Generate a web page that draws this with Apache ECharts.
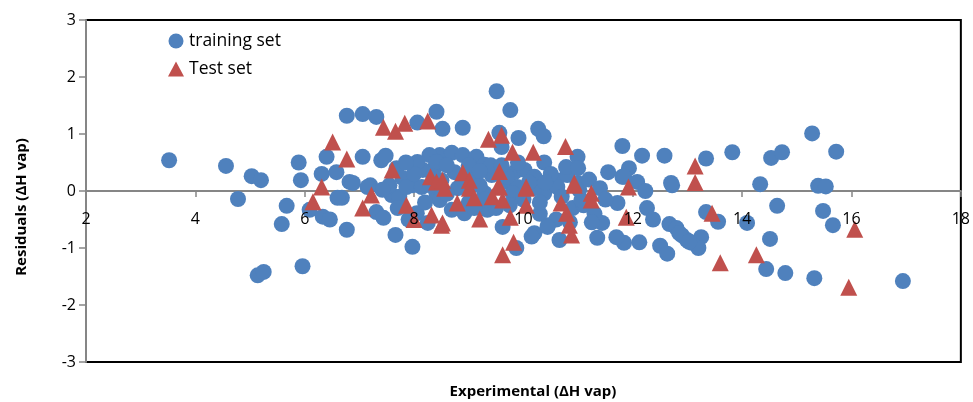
<!DOCTYPE html>
<html><head><meta charset="utf-8">
<script src="https://cdn.jsdelivr.net/npm/echarts@6/dist/echarts.min.js"></script>
<style>html,body{margin:0;padding:0;background:#fff}#c{width:973px;height:402px}</style>
</head><body><div id="c"></div>
<script>
const xTicks = [2,4,6,8,10,12,14,16,18];
const yTicks = [-3,-2,-1,0,1,2,3];
const trainingSet = [
[3.52,0.54],[4.56,0.44],[4.78,-0.14],[5.03,0.26],[5.2,0.19],[5.14,-1.48],[5.25,-1.42],[5.67,-0.26],[5.58,-0.58],[5.96,-1.32],
[5.89,0.5],[5.93,0.19],[6.09,-0.33],[6.33,-0.45],[6.46,-0.5],[6.31,0.3],[6.4,0.6],[6.58,0.33],[6.68,-0.12],[6.6,-0.12],
[6.77,-0.68],[6.82,0.16],[6.77,1.32],[7.06,1.35],[7.31,1.3],[7.06,0.6],[7.2,0.1],[7.4,0.54],[7.48,0.62],[7.31,-0.37],
[7.44,-0.47],[7.59,-0.07],[7.66,-0.77],[7.97,-0.98],[7.73,-0.1],[8.06,1.2],[8.41,1.39],[8.52,1.09],[8.89,1.11],[9.51,1.75],
[9.76,1.42],[9.56,1.02],[9.6,0.77],[9.91,0.93],[10.27,1.09],[10.37,0.96],[10.38,0.5],[10.99,0.6],[11.81,0.79],[11.55,0.33],
[11.81,0.25],[11.93,0.4],[11.84,0.25],[12.08,0.16],[12.23,0.0],[12.17,0.62],[12.58,0.62],[12.7,0.14],[13.34,0.57],[13.82,0.68],
[14.33,0.12],[14.53,0.58],[14.73,0.68],[15.28,1.01],[15.72,0.69],[15.39,0.09],[15.53,0.08],
[12.26,-0.3],[12.37,-0.5],[12.67,-0.58],[12.8,-0.65],[12.9,-0.78],[12.99,-0.86],[13.08,-0.91],[13.25,-0.81],[13.2,-1.0],
[12.5,-0.96],[12.63,-1.1],[12.12,-0.9],[11.84,-0.91],[13.34,-0.37],[13.56,-0.54],[14.09,-0.56],[14.64,-0.26],[14.51,-0.84],
[14.44,-1.37],[14.79,-1.44],[15.32,-1.53],[16.94,-1.58],[15.48,-0.35],[15.66,-0.6],
[11.72,-0.21],[11.44,-0.56],[11.35,-0.82],[11.7,-0.81],[12.85,-0.74],[13.03,-0.89],[12.72,0.1],[11.02,0.02],
[9.62,-0.63],[9.87,-1.0],[10.2,-0.74],[10.66,-0.86],[10.3,-0.4],[10.45,-0.6],[10.6,-0.5],[10.9,-0.3],[11.1,-0.25],[11.3,-0.4],
[8.47,0.63],[8.69,0.67],[8.89,0.63],[9.14,0.6],[9.29,0.46],[9.42,0.28],[9.84,0.33],[10.02,0.37],[10.2,0.25],[10.6,0.19],
[10.8,0.28],[10.99,0.14],[8.37,0.4],[8.74,0.33],[9.1,0.25],[9.65,0.16],[9.89,0.07],[10.78,0.42],
[7.68,0.4],[7.79,0.23],[8.16,0.37],[8.28,0.63],[8.41,0.51],[8.06,0.51],[7.97,0.1],[7.55,0.1],
[7.42,0.02],[6.88,0.14],[7.15,0.07],[7.86,0.07],[8.14,0.07],[8.41,-0.04],[8.05,-0.39],[8.25,-0.56],
[8.69,-0.33],[8.92,-0.39],[9.29,-0.04],[9.34,-0.33],[9.8,-0.04],[10.38,-0.04],[10.44,-0.63],[10.15,-0.8],[10.62,0.07],[11.06,-0.16],
[8.47,-0.16],[8.5,0.19],[8.2,-0.2],[8.8,0.05],[9.0,-0.2],[9.2,0.1],[9.5,-0.3],[9.7,0.25],[10.0,-0.15],[10.2,0.05],
[10.5,0.3],[10.7,-0.1],[11.2,0.2],[11.4,0.05],[11.5,-0.15],[9.4,0.45],[8.6,0.45],[9.0,0.45],[7.9,-0.5],[8.0,0.3],
[8.3,0.1],[8.9,0.2],[9.2,0.35],[9.6,0.45],[9.9,0.5],[10.1,0.15],[10.4,0.15],[9.3,-0.15],[9.75,-0.25],[10.3,-0.2],
[8.6,-0.05],[7.85,0.5],[11.0,0.4],[11.25,-0.55],[10.85,-0.55],[9.1,-0.3],[8.35,0.25],[7.7,-0.3]
];
const testSet = [
[6.51,0.86],[6.77,0.56],[7.44,1.12],[7.66,1.05],[7.83,1.19],[8.25,1.23],[7.6,0.37],[6.31,0.07],[6.15,-0.19],[7.06,-0.3],
[7.22,-0.07],[7.86,-0.25],[8.32,-0.42],[8.0,-0.5],[8.5,-0.6],[8.3,0.25],[8.41,0.16],[8.52,0.19],[8.89,0.32],[9.01,0.19],
[9.36,0.91],[9.6,0.98],[9.8,0.68],[10.18,0.68],[10.77,0.78],[9.56,0.34],[9.56,0.07],[10.05,0.07],[10.93,0.14],[11.24,-0.04],
[8.56,0.05],[9.01,0.05],[9.1,-0.12],[9.53,0.07],[9.62,-0.16],[10.05,0.05],[10.05,-0.25],[8.79,-0.21],[8.52,-0.56],[9.2,-0.49],
[9.76,-0.46],[9.82,-0.9],[9.62,-1.12],[10.69,-0.21],[10.79,-0.39],[10.84,-0.6],[10.88,-0.77],[10.93,0.1],[9.43,-0.1],[11.24,-0.16],
[11.92,0.07],[11.88,-0.46],[13.14,0.44],[13.14,0.15],[13.45,-0.39],[13.6,-1.26],[14.26,-1.12],[15.95,-1.69],[16.06,-0.67]
];
const chart = echarts.init(document.getElementById('c'), null, {renderer:'canvas'});
const FONT = 'Open Sans';
chart.setOption({
  animation:false,
  backgroundColor:'#fff',
  textStyle:{fontFamily:FONT},
  grid:{left:86,right:11,top:20,bottom:40,show:true,borderColor:'#000',borderWidth:2,backgroundColor:'transparent'},
  legend:{
    orient:'vertical',left:163,top:27,itemGap:10,itemWidth:16,itemHeight:15,
    textStyle:{fontFamily:FONT,fontSize:17.5,color:'#000'},
    data:[{name:'training set',icon:'circle'},{name:'Test set',icon:'triangle'}]
  },
  xAxis:[{
    type:'value',min:xTicks[0],max:xTicks[xTicks.length-1],interval:2,z:0,
    axisLine:{onZero:true,lineStyle:{color:'#868686',width:2}},
    axisTick:{show:true,inside:false,length:6,lineStyle:{color:'#868686',width:1.5}},
    axisLabel:{show:false},splitLine:{show:false}
  },{
    type:'value',min:xTicks[0],max:xTicks[xTicks.length-1],interval:2,z:10,
    position:'bottom',offset:-171,
    axisLine:{show:false,onZero:false},axisTick:{show:false},splitLine:{show:false},
    axisLabel:{show:true,margin:20,color:'#000',fontSize:16,fontFamily:FONT}
  }],
  yAxis:{
    type:'value',min:yTicks[0],max:yTicks[yTicks.length-1],interval:1,
    axisLine:{show:true,lineStyle:{color:'#868686',width:2}},
    axisTick:{show:true,length:7,lineStyle:{color:'#868686',width:1.5}},
    axisLabel:{color:'#000',fontSize:16,margin:10,fontFamily:FONT},
    splitLine:{show:false}
  },
  graphic:[
    {type:'text',x:533,y:392,style:{text:'Experimental (ΔH vap)',font:'bold 15px "Open Sans"',fill:'#000',textAlign:'center',textVerticalAlign:'middle'}},
    {type:'text',x:22,y:207,rotation:Math.PI/2,style:{text:'Residuals (ΔH vap)',font:'bold 15px "Open Sans"',fill:'#000',textAlign:'center',textVerticalAlign:'middle'}}
  ],
  series:[
    {name:'training set',type:'scatter',xAxisIndex:0,z:5,symbol:'circle',symbolSize:16,data:trainingSet,
     itemStyle:{color:'#4F81BD',opacity:1}},
    {name:'Test set',type:'scatter',xAxisIndex:0,z:6,symbol:'triangle',symbolSize:17,data:testSet,
     itemStyle:{color:'#C0504D',opacity:1}}
  ]
});
</script></body></html>
